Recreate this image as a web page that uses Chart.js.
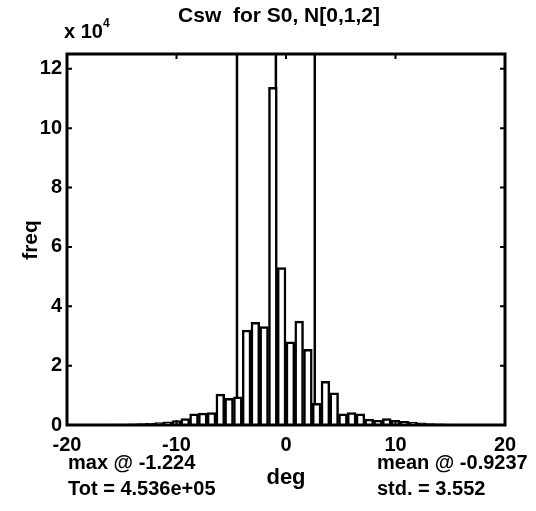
<!DOCTYPE html>
<html>
<head>
<meta charset="utf-8">
<script src="https://cdn.jsdelivr.net/npm/chart.js@4/dist/chart.umd.min.js"></script>
<style>
    html, body { margin: 0; padding: 0; background: #fff; }
    #wrap { width: 536px; height: 511px; }
</style>
</head>
<body>
<div id="wrap"><canvas id="hist-chart" width="536" height="511"></canvas></div>
<script>
// histogram bin centres (deg) and counts (x 10^4)
const binCenters = [
    -19.6, -18.8, -18.0, -17.2, -16.4, -15.6, -14.8, -14.0, -13.2, -12.4,
    -11.6, -10.8, -10.0, -9.2, -8.4, -7.6, -6.8, -6.0, -5.2, -4.4,
    -3.6, -2.8, -2.0, -1.2, -0.4, 0.4, 1.2, 2.0, 2.8, 3.6,
    4.4, 5.2, 6.0, 6.8, 7.6, 8.4, 9.2, 10.0, 10.8, 11.6,
    12.4, 13.2, 14.0, 14.8, 15.6, 16.4, 17.2, 18.0, 18.8, 19.6
];
const binCounts = [
    0.01, 0.01, 0.01, 0.02, 0.02, 0.03, 0.03, 0.04, 0.05, 0.06,
    0.08, 0.11, 0.15, 0.22, 0.38, 0.40, 0.42, 1.04, 0.90, 0.95,
    3.20, 3.46, 3.32, 11.38, 5.30, 2.80, 3.50, 2.55, 0.73, 1.47,
    1.08, 0.38, 0.42, 0.38, 0.20, 0.16, 0.22, 0.16, 0.12, 0.10,
    0.07, 0.05, 0.04, 0.03, 0.02, 0.02, 0.01, 0.01, 0.01, 0.01
];

// summary stats printed under the plot
const meanVal = -0.9237;
const stdVal = 3.552;
const maxAt = -1.224;
const totalText = "4.536e+05";

// axis ticks
const xTicks = [-20, -10, 0, 10, 20];
const yTicks = [0, 2, 4, 6, 8, 10, 12];
const xRange = [-20, 20];
const yRange = [0, 12.5];

const FONT = "'Liberation Sans', Arial, Helvetica, sans-serif";

// vertical marker at a given x, spanning the whole y range
function markerLine(xVal) {
    return {
        type: "line",
        data: [{ x: xVal, y: yRange[0] }, { x: xVal, y: yRange[1] }],
        borderColor: "#000",
        borderWidth: 2.5,
        pointRadius: 0,
        fill: false,
    };
}

// frame, inward ticks and the loose text around the axes (MATLAB style)
const matlabDecor = {
    id: "matlabDecor",
    afterDraw(chart) {
        const ctx = chart.ctx;
        const area = chart.chartArea;
        const xs = chart.scales.x;
        const ys = chart.scales.y;
        const tickLen = 5;

        ctx.save();
        ctx.strokeStyle = "#000";
        ctx.lineWidth = 2;
        ctx.beginPath();
        xTicks.forEach(v => {
            const px = xs.getPixelForValue(v);
            ctx.moveTo(px, area.bottom);
            ctx.lineTo(px, area.bottom - tickLen);
            ctx.moveTo(px, area.top);
            ctx.lineTo(px, area.top + tickLen);
        });
        yTicks.forEach(v => {
            const py = ys.getPixelForValue(v);
            ctx.moveTo(area.left, py);
            ctx.lineTo(area.left + tickLen, py);
            ctx.moveTo(area.right, py);
            ctx.lineTo(area.right - tickLen, py);
        });
        ctx.stroke();

        ctx.lineWidth = 3;
        ctx.strokeRect(area.left, area.top, area.right - area.left, area.bottom - area.top);

        ctx.fillStyle = "#000";
        ctx.textBaseline = "middle";

        // title
        ctx.font = "bold 21px " + FONT;
        ctx.textAlign = "center";
        ctx.fillText("Csw  for S0, N[0,1,2]", 279, 16);

        // exponent label
        ctx.textAlign = "left";
        ctx.font = "bold 20px " + FONT;
        ctx.fillText("x 10", 64, 32);
        ctx.font = "bold 12px " + FONT;
        ctx.fillText("4", 103, 24);

        // y axis title
        ctx.save();
        ctx.translate(31, 240);
        ctx.rotate(-Math.PI / 2);
        ctx.textAlign = "center";
        ctx.font = "bold 21px " + FONT;
        ctx.fillText("freq", 0, 0);
        ctx.restore();

        // x axis title
        ctx.textAlign = "center";
        ctx.font = "bold 22px " + FONT;
        ctx.fillText("deg", xs.getPixelForValue(0), 478);

        // stats
        ctx.textAlign = "left";
        ctx.font = "bold 20px " + FONT;
        ctx.fillText("max @ " + maxAt, 68, 463);
        ctx.fillText("Tot = " + totalText, 68, 489);
        ctx.fillText("mean @ " + meanVal, 377, 463);
        ctx.fillText("std. = " + stdVal, 377, 489);
        ctx.restore();
    },
};

const ctx = document.getElementById("hist-chart").getContext("2d");

new Chart(ctx, {
    type: "bar",
    data: {
        datasets: [
            {
                label: "freq",
                data: binCenters.map((c, i) => ({ x: c, y: binCounts[i] })),
                backgroundColor: "#fff",
                borderColor: "#000",
                borderWidth: 2.5,
                barPercentage: 1,
                categoryPercentage: 1,
            },
            markerLine(meanVal - stdVal),
            markerLine(meanVal),
            markerLine(meanVal + stdVal),
        ],
    },
    options: {
        responsive: false,
        animation: false,
        events: [],
        layout: {
            padding: { left: 0, right: 31, top: 54, bottom: 0 },
        },
        plugins: {
            legend: { display: false },
            title: { display: false },
            tooltip: { enabled: false },
        },
        scales: {
            x: {
                type: "linear",
                min: xRange[0],
                max: xRange[1],
                offset: false,
                afterBuildTicks: scale => {
                    scale.ticks = xTicks.map(v => ({ value: v }));
                },
                afterFit: scale => {
                    scale.height = 86;
                },
                grid: { display: false, drawTicks: false },
                border: { display: false },
                ticks: {
                    color: "#000",
                    font: { family: FONT, size: 20, weight: "bold" },
                    padding: 8,
                    maxRotation: 0,
                    autoSkip: false,
                },
            },
            y: {
                min: yRange[0],
                max: yRange[1],
                afterBuildTicks: scale => {
                    scale.ticks = yTicks.map(v => ({ value: v }));
                },
                afterFit: scale => {
                    scale.width = 67;
                },
                grid: { display: false, drawTicks: false },
                border: { display: false },
                ticks: {
                    color: "#000",
                    font: { family: FONT, size: 20, weight: "bold" },
                    padding: 5,
                    autoSkip: false,
                },
            },
        },
    },
    plugins: [matlabDecor],
});
</script>
</body>
</html>
